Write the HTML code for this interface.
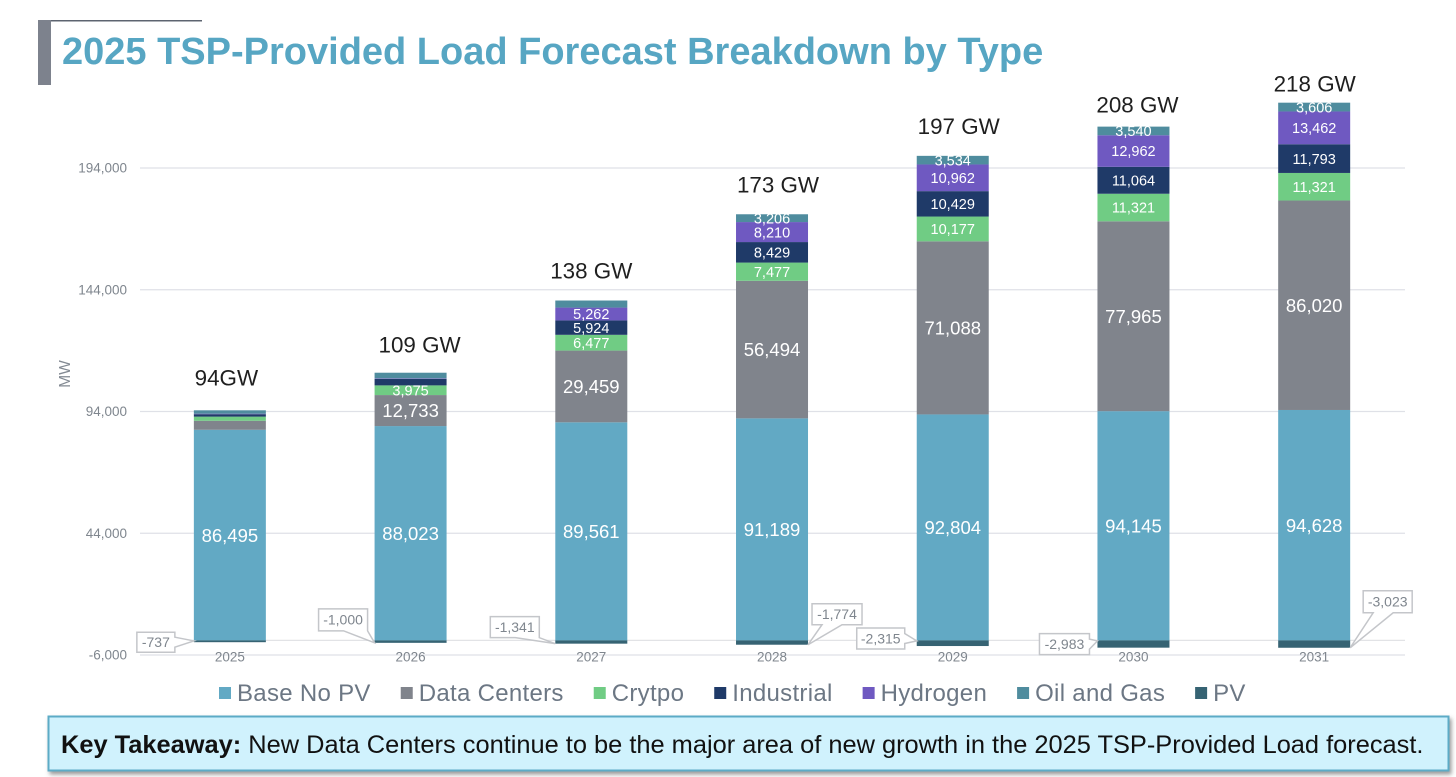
<!DOCTYPE html>
<html lang="en">
<head>
<meta charset="utf-8">
<title>2025 TSP-Provided Load Forecast Breakdown by Type</title>
<style>
html,body{margin:0;padding:0;background:#fff;width:1456px;height:777px;overflow:hidden}
svg{display:block;font-family:"Liberation Sans",Arial,sans-serif}
</style>
</head>
<body>
<svg id="chart" width="1456" height="777" viewBox="0 0 1456 777" xmlns="http://www.w3.org/2000/svg">
  <defs>
    <filter id="boxShadow" x="-2%" y="-20%" width="104%" height="150%">
      <feDropShadow dx="2" dy="3" stdDeviation="2" flood-color="#555" flood-opacity="0.6"/>
    </filter>
  </defs>
  <rect x="38" y="20" width="164" height="1.5" fill="#5d6470"/>
  <rect x="38" y="20" width="13" height="65" fill="#7d828d"/>
  <text x="62" y="64" font-size="38" font-weight="700" fill="#57a6c3">2025 TSP-Provided Load Forecast Breakdown by Type</text>
  <text transform="translate(70,374) rotate(-90)" text-anchor="middle" font-size="15.5" fill="#838a93">MW</text>
  <g id="grid"></g>
  <g id="bars"></g>
  <g id="labels"></g>
  <g id="callouts"></g>
  <g id="legend"></g>
  <g>
    <rect x="48.5" y="716.5" width="1400" height="54" fill="#d0f2fd" stroke="#5cabc6" stroke-width="2" filter="url(#boxShadow)"/>
    <text x="61" y="753" font-size="25.4" fill="#111"><tspan font-weight="700">Key Takeaway:</tspan> New Data Centers continue to be the major area of new growth in the 2025 TSP-Provided Load forecast.</text>
  </g>
</svg>
<script>
const categories = ['2025', '2026', '2027', '2028', '2029', '2030', '2031'];
const baseNoPv = [86495, 88023, 89561, 91189, 92804, 94145, 94628];
const dataCenters = [3700, 12733, 29459, 56494, 71088, 77965, 86020];
const crypto = [1700, 3975, 6477, 7477, 10177, 11321, 11321];
const industrial = [1000, 2700, 5924, 8429, 10429, 11064, 11793];
const hydrogen = [200, 200, 5262, 8210, 10962, 12962, 13462];
const oilAndGas = [1400, 2300, 2900, 3206, 3534, 3540, 3606];
const pv = [-737, -1000, -1341, -1774, -2315, -2983, -3023];
const totalLabels = ['94GW', '109 GW', '138 GW', '173 GW', '197 GW', '208 GW', '218 GW'];
const yTicks = [-6000, 44000, 94000, 144000, 194000];
const seriesNames = ['Base No PV', 'Data Centers', 'Crytpo', 'Industrial', 'Hydrogen', 'Oil and Gas', 'PV'];

const seriesColors = ['#62a9c4', '#80848c', '#70cc84', '#1f3a68', '#6f59c1', '#4f8c9e', '#366373'];
const positiveSeries = [baseNoPv, dataCenters, crypto, industrial, hydrogen, oilAndGas];
const NS = 'http://www.w3.org/2000/svg';

function yScale(v) { return 640.4 - v * (121.75 / 50000); }
function xCenter(i) { return 139.5 + 180.72 * (i + 0.5); }
const barWidth = 72;

function make(parent, tag, attrs, text) {
  const el = document.createElementNS(NS, tag);
  for (const k in attrs) el.setAttribute(k, attrs[k]);
  if (text !== undefined) el.textContent = text;
  parent.appendChild(el);
  return el;
}
function fmt(v) { return v.toLocaleString('en-US'); }
function slug(s) { return s.toLowerCase().replace(/[^a-z0-9]+/g, '-'); }

const grid = document.getElementById('grid');
const bars = document.getElementById('bars');
const labels = document.getElementById('labels');
const callouts = document.getElementById('callouts');
const legend = document.getElementById('legend');

yTicks.forEach(function (t) {
  const line = make(grid, 'line', {x1: 140, x2: 1405, y1: yScale(t), y2: yScale(t), stroke: '#dfe1e7', 'stroke-width': 1.3});
  
  
  const lab = make(grid, 'text', {x: 127, y: yScale(t) + 4.5, 'text-anchor': 'end', 'font-size': 13.5, fill: '#7f868e'}, fmt(t));
  
  
});
const zeroLine = make(grid, 'line', {x1: 140, x2: 1405, y1: yScale(0), y2: yScale(0), stroke: '#e2e3e6', 'stroke-width': 1.3});



/* Hand-placed nudges for the total labels, relative to the stack top */
const totalLayout = [
  {dx: -3.5, lift: 25},
  {dx: 9, lift: 20},
  {dx: 0, lift: 22},
  {dx: 6, lift: 22},
  {dx: 6, lift: 22},
  {dx: 4, lift: 14},
  {dx: 0.5, lift: 11}
];

categories.forEach(function (cat, i) {
  const cx = xCenter(i);
  const x = cx - barWidth / 2;
  const tick = make(grid, 'text', {x: cx, y: 661.5, 'text-anchor': 'middle', 'font-size': 13.5, fill: '#7f868e'}, cat);
  
  

  let cum = 0;
  positiveSeries.forEach(function (series, s) {
    const v = series[i];
    const top = yScale(cum + v);
    const bottom = yScale(cum);
    const seg = make(bars, 'rect', {x: x, y: top, width: barWidth, height: bottom - top, fill: seriesColors[s]});
    
    
    const printed = v >= 3000 && (i > 0 || s === 0);
    if (printed) {
      const size = s < 2 ? 18.5 : 14.5;
      const lab = make(labels, 'text', {x: cx, y: (top + bottom) / 2 + size * 0.36, 'text-anchor': 'middle', 'font-size': size, fill: '#fff'}, fmt(v));
      
      
    }
    cum += v;
  });

  const neg = make(bars, 'rect', {x: x, y: yScale(0), width: barWidth, height: yScale(pv[i]) - yScale(0), fill: seriesColors[6]});
  
  

  const place = totalLayout[i];
  const total = make(labels, 'text', {x: cx + place.dx, y: yScale(cum) - place.lift, 'text-anchor': 'middle', 'font-size': 22.4, fill: '#1f1f1f'}, totalLabels[i]);
  
  
});

/* Callout boxes are placed relative to the tip of each negative PV bar */
const calloutLayout = [
  {dx: -57, dy: -10, w: 38, h: 20, side: 'left'},
  {dx: -56, dy: -34, w: 49, h: 22, side: 'bottom'},
  {dx: -65, dy: -27, w: 49, h: 21, side: 'bottom'},
  {dx: 4, dy: -41, w: 50, h: 21, side: 'bottomLeft'},
  {dx: -60, dy: -18, w: 48, h: 21, side: 'left'},
  {dx: -58, dy: -14, w: 50, h: 21, side: 'left'},
  {dx: 13, dy: -57, w: 49, h: 22, side: 'bottomLeft'}
];
categories.forEach(function (cat, i) {
  const c = calloutLayout[i];
  const cx = xCenter(i);
  const rightSide = c.side === 'bottomLeft';
  const tipX = rightSide ? cx + barWidth / 2 : cx - barWidth / 2;
  const tipY = yScale(pv[i]);
  const bx = tipX + c.dx;
  const by = tipY + c.dy;
  const r = bx + c.w;
  const b = by + c.h;
  let d;
  if (c.side === 'left') {
    const m = Math.min(b - 2, Math.max(by + 2, by + c.h / 2));
    d = 'M' + bx + ' ' + by + 'H' + r + 'V' + (m - 5) + 'L' + tipX + ' ' + (yScale(0) + 0.5) + 'L' + r + ' ' + (m + 5) + 'V' + b + 'H' + bx + 'Z';
  } else if (c.side === 'bottom') {
    d = 'M' + bx + ' ' + by + 'H' + r + 'V' + b + 'L' + tipX + ' ' + tipY + 'L' + (r - 24) + ' ' + b + 'H' + bx + 'Z';
  } else {
    d = 'M' + bx + ' ' + by + 'H' + r + 'V' + b + 'H' + (bx + 30) + 'L' + tipX + ' ' + tipY + 'L' + (bx + 10) + ' ' + b + 'H' + bx + 'Z';
  }
  const shape = make(callouts, 'path', {d: d, fill: '#fff', stroke: '#c4c6ca', 'stroke-width': 1.5});
  
  
  const lab = make(callouts, 'text', {x: bx + c.w / 2, y: by + c.h / 2 + 4.8, 'text-anchor': 'middle', 'font-size': 14, fill: '#7f868e'}, fmt(pv[i]));
  
  
});

/* Legend flows left to right using the measured label widths */
let legendX = 219;
seriesNames.forEach(function (name, s) {
  const sw = make(legend, 'rect', {x: legendX, y: 687, width: 12, height: 12, fill: seriesColors[s]});
  
  
  const tx = make(legend, 'text', {x: legendX + 18, y: 701, 'font-size': 24, fill: '#6c7784', 'letter-spacing': 0.3}, name);
  
  
  legendX += 18 + tx.getComputedTextLength() + 30;
});
</script>
</body>
</html>
